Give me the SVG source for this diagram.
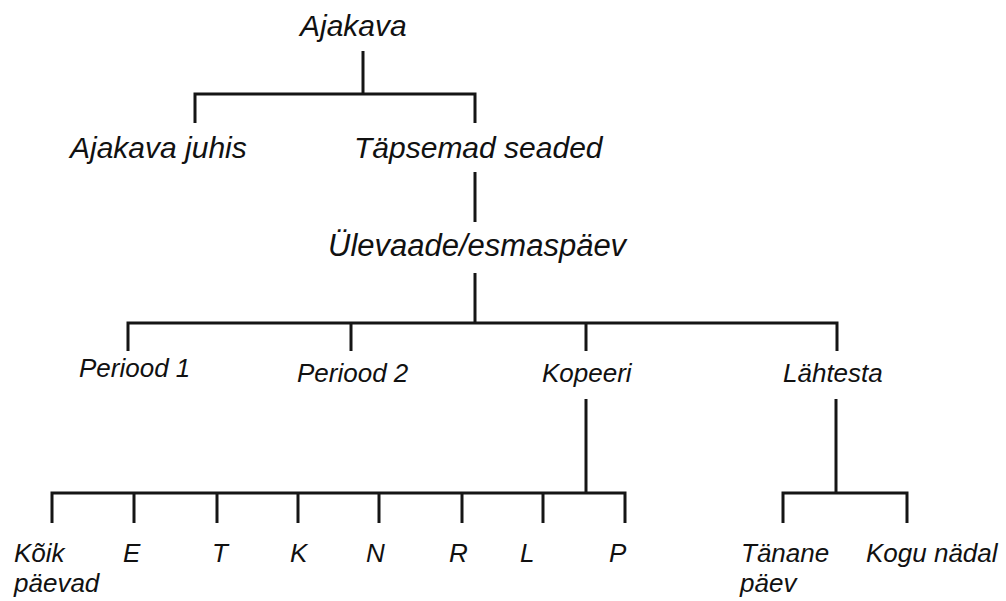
<svg xmlns="http://www.w3.org/2000/svg" width="1006" height="601" viewBox="0 0 1006 601">
  <style>
    .lbl { font-family: "Liberation Sans", Arial, sans-serif; font-style: italic; fill: #111; }
    .big { font-size: 30px; }
    .small { font-size: 26px; }
    .wire { fill: none; stroke: #151515; stroke-width: 3; stroke-linejoin: miter; stroke-linecap: butt; }
  </style>
  <rect width="1006" height="601" fill="#ffffff"/>

  <!-- tree connectors -->
  <g id="connectors" class="wire">
    <path d="M363,51 V94"/>
    <path d="M195,123 V94 H475 V123"/>
    <path d="M475,172 V222"/>
    <path d="M475,273 V323"/>
    <path d="M128,351 V323 H837 V351"/>
    <path d="M351,323 V351"/>
    <path d="M586,323 V351"/>
    <path d="M586,399 V493"/>
    <path d="M52,523 V493 H625 V523"/>
    <path d="M134,493 V523"/>
    <path d="M217,493 V523"/>
    <path d="M298,493 V523"/>
    <path d="M379,493 V523"/>
    <path d="M462,493 V523"/>
    <path d="M543,493 V523"/>
    <path d="M836,399 V493"/>
    <path d="M783,523 V493 H907 V523"/>
  </g>

  <g id="ajakava"><text class="lbl big" x="300" y="36">Ajakava</text></g>
  <g id="ajakava-juhis"><text class="lbl big" x="70" y="158">Ajakava juhis</text></g>
  <g id="tapsemad-seaded"><text class="lbl big" x="354" y="158">Täpsemad seaded</text></g>
  <g id="ulevaade"><text class="lbl" font-size="31" x="328" y="256">Ülevaade/esmaspäev</text></g>

  <g id="periood-1"><text class="lbl small" x="79" y="377">Periood 1</text></g>
  <g id="periood-2"><text class="lbl small" x="297" y="382">Periood 2</text></g>
  <g id="kopeeri"><text class="lbl small" x="542" y="382">Kopeeri</text></g>
  <g id="lahtesta"><text class="lbl small" x="783" y="382">Lähtesta</text></g>

  <g id="koik-paevad">
    <text class="lbl small" x="14" y="562">Kõik</text>
    <text class="lbl small" x="14" y="592">päevad</text>
  </g>
  <g id="day-e"><text class="lbl small" x="123" y="562">E</text></g>
  <g id="day-t"><text class="lbl small" x="212" y="562">T</text></g>
  <g id="day-k"><text class="lbl small" x="290" y="562">K</text></g>
  <g id="day-n"><text class="lbl small" x="366" y="562">N</text></g>
  <g id="day-r"><text class="lbl small" x="449" y="562">R</text></g>
  <g id="day-l"><text class="lbl small" x="520" y="562">L</text></g>
  <g id="day-p"><text class="lbl small" x="609" y="562">P</text></g>

  <g id="tanane-paev">
    <text class="lbl small" x="741" y="562">Tänane</text>
    <text class="lbl small" x="740" y="592">päev</text>
  </g>
  <g id="kogu-nadal"><text class="lbl small" x="866" y="562">Kogu nädal</text></g>
</svg>
